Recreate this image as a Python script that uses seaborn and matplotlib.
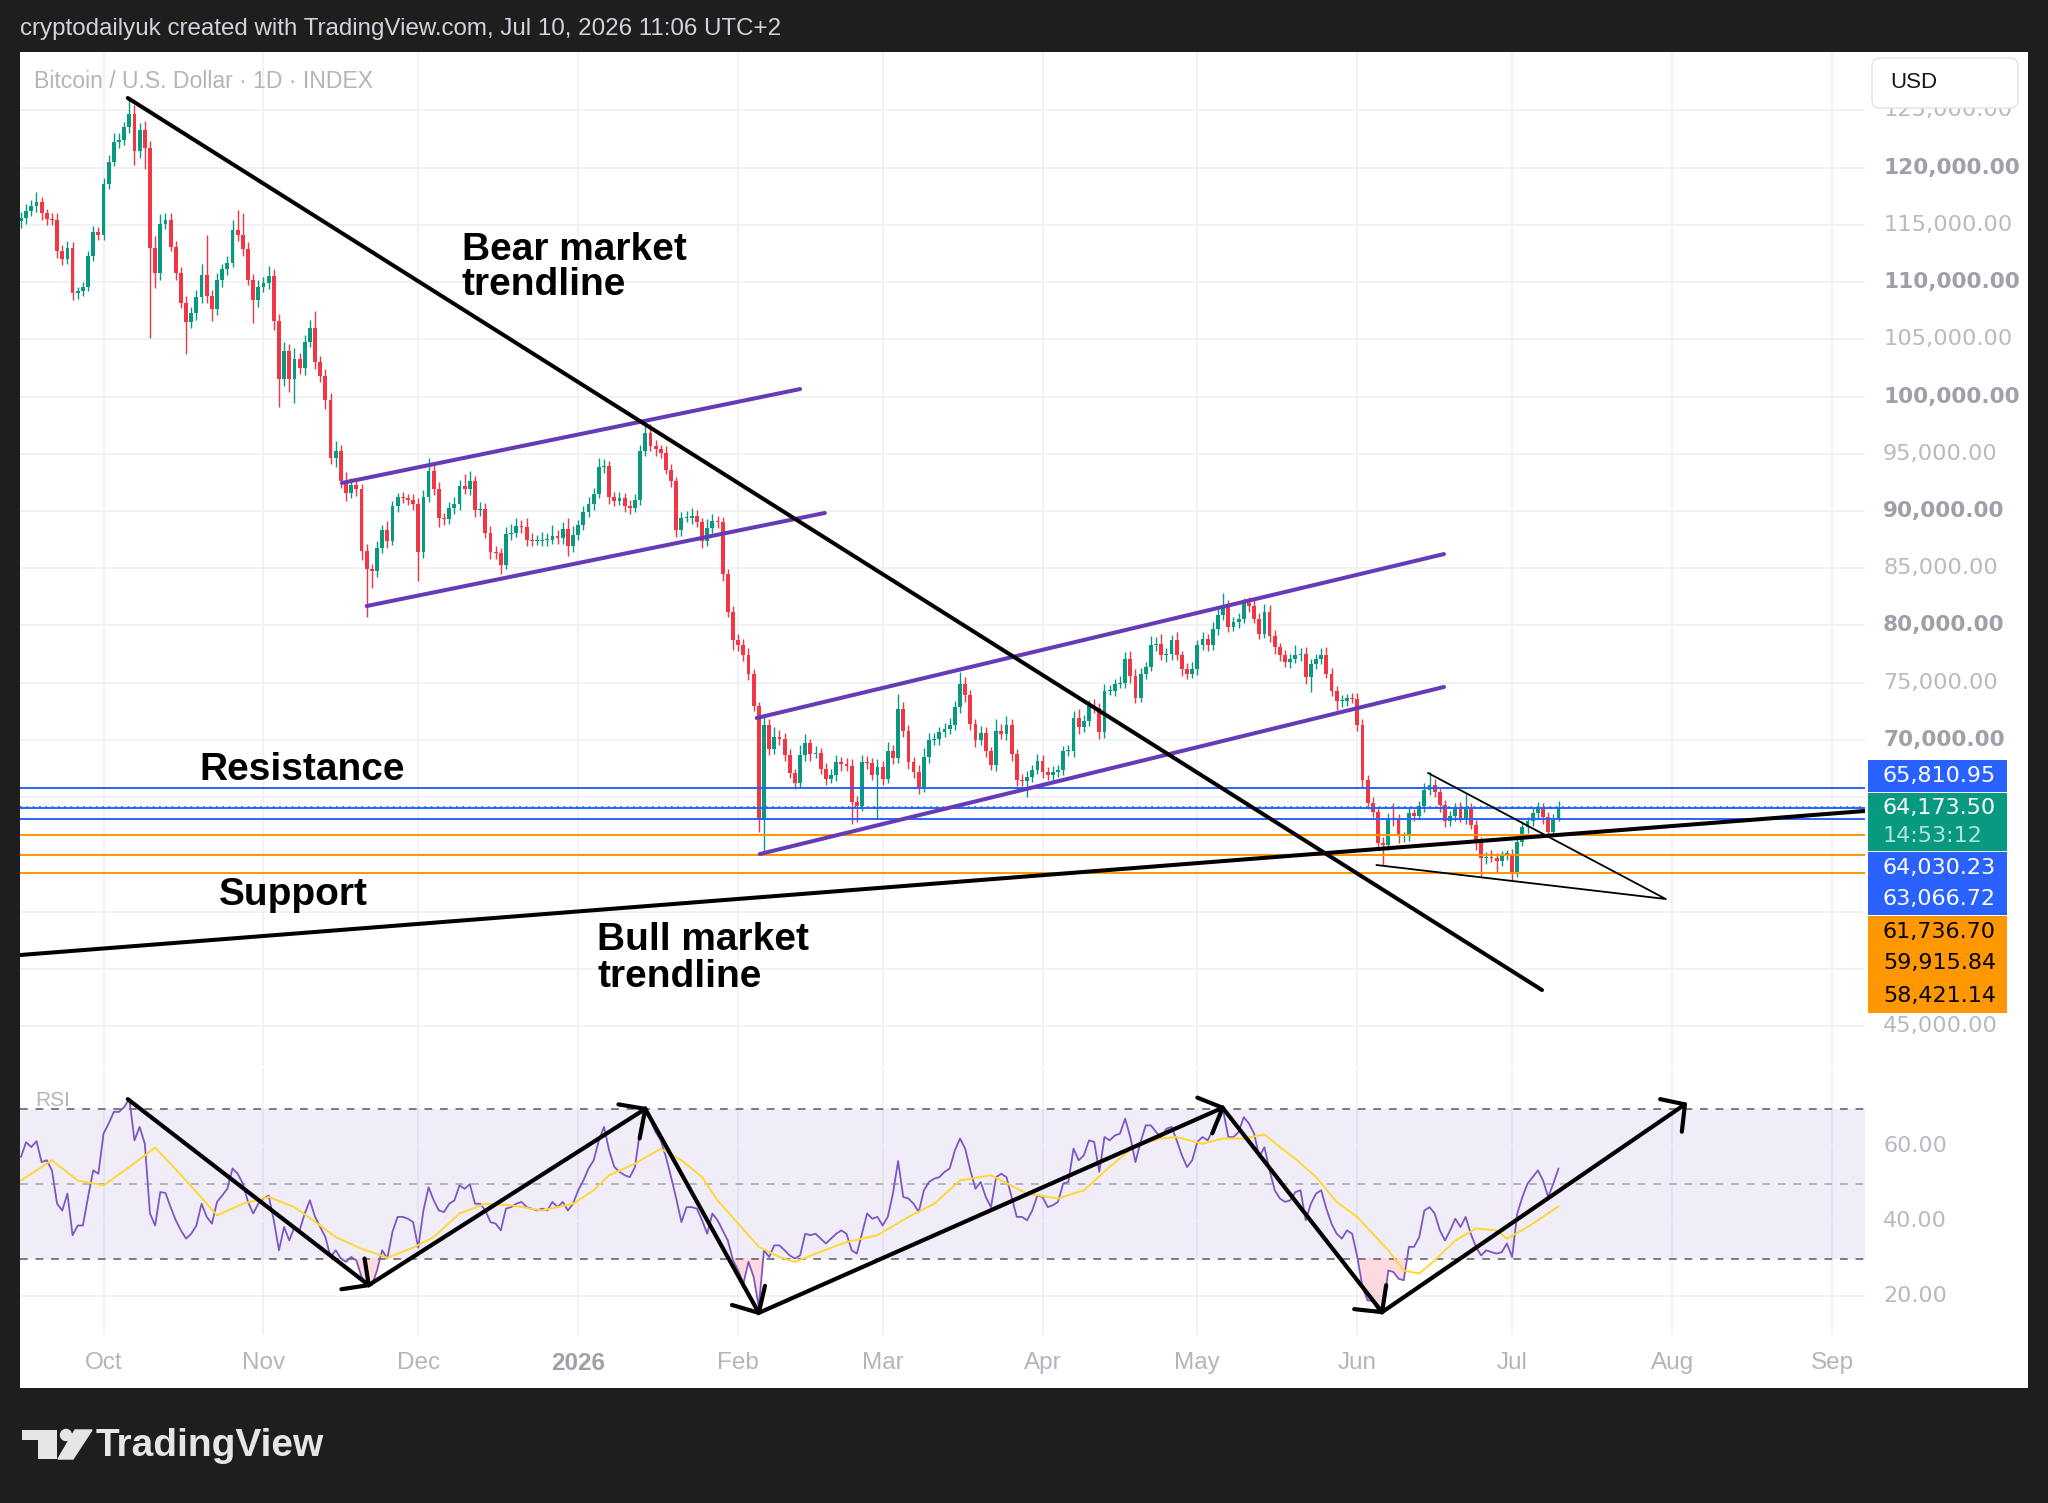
import numpy as np
import pandas as pd
import matplotlib
matplotlib.use("Agg")
import matplotlib.pyplot as plt
import matplotlib.dates as mdates
from matplotlib.patches import Rectangle, FancyBboxPatch, Polygon, Circle
from matplotlib.transforms import Affine2D
import seaborn as sns

W, H = 2048, 1503

# ---- daily BTC candles, prices in thousands USD ----
start_date = "2025-09-15"
first_open_k = 115.3
closes_k = [
    115.6, 116.2, 116.6, 117.0, 116.0, 115.5, 115.4, 112.7, 112.0, 113.0,
    109.0, 109.2, 109.6, 112.3, 114.4, 114.1, 118.6, 120.5, 122.2, 122.4,
    123.5, 124.7, 121.4, 123.3, 121.7, 113.0, 110.8, 115.1, 115.4, 113.1,
    110.8, 108.2, 106.5, 107.3, 108.7, 110.6, 108.8, 107.6, 110.2, 111.1,
    111.7, 114.5, 114.1, 112.9, 110.2, 108.4, 109.6, 109.9, 110.5, 106.6,
    101.5, 104.0, 101.5, 103.3, 102.5, 104.8, 106.0, 103.0, 101.8, 99.7,
    94.6, 95.2, 92.6, 91.6, 92.3, 91.9, 86.5, 84.9, 84.8, 86.8,
    88.3, 87.4, 90.4, 91.2, 91.1, 91.0, 90.6, 86.4, 91.2, 93.5,
    91.9, 89.4, 89.3, 90.3, 90.6, 92.2, 91.9, 92.6, 90.1, 90.2,
    88.1, 86.4, 86.3, 85.3, 88.0, 88.1, 88.7, 88.6, 87.5, 87.4,
    87.4, 87.5, 87.5, 87.8, 87.6, 88.4, 86.9, 87.9, 88.8, 89.9,
    90.6, 91.5, 93.8, 93.9, 91.2, 90.9, 91.1, 90.4, 90.3, 91.0,
    95.2, 96.8, 95.7, 95.4, 95.1, 93.6, 92.6, 88.3, 89.4, 89.4,
    89.6, 89.0, 87.4, 88.5, 89.1, 89.0, 84.5, 81.2, 78.7, 78.3,
    77.4, 75.8, 73.0, 63.0, 71.3, 69.2, 70.3, 70.1, 68.7, 67.1,
    66.2, 68.7, 69.7, 68.8, 68.9, 67.5, 66.6, 66.9, 68.1, 67.9,
    67.7, 64.6, 64.2, 68.1, 68.0, 66.9, 67.6, 66.6, 69.0, 68.4,
    72.7, 70.8, 68.1, 67.2, 65.9, 68.5, 70.0, 70.1, 70.7, 71.0,
    71.3, 72.9, 74.9, 73.9, 71.4, 70.0, 70.6, 69.0, 67.8, 70.8,
    70.5, 71.3, 68.8, 66.5, 66.4, 66.8, 67.4, 68.2, 67.2, 66.9,
    67.2, 67.4, 69.0, 69.0, 71.9, 71.1, 71.7, 73.0, 72.8, 70.7,
    74.3, 74.3, 74.9, 75.0, 77.1, 75.6, 73.7, 75.8, 76.4, 78.3,
    78.4, 77.4, 77.5, 78.7, 77.4, 76.2, 75.8, 76.2, 78.3, 78.8,
    78.3, 79.7, 80.9, 81.6, 79.9, 80.3, 80.6, 82.0, 81.7, 80.6,
    79.3, 81.2, 79.1, 78.1, 77.4, 76.8, 77.1, 77.4, 77.5, 75.5,
    76.6, 77.1, 77.4, 75.8, 74.3, 73.4, 73.4, 73.7, 73.6, 71.3,
    66.5, 64.5, 63.7, 61.0, 60.8, 63.2, 63.0, 61.6, 61.6, 63.6,
    63.4, 64.2, 65.6, 66.1, 65.5, 64.3, 62.9, 63.4, 64.0, 63.2,
    64.0, 62.6, 61.0, 59.7, 59.8, 59.7, 59.4, 60.0, 60.0, 58.5,
    61.1, 62.4, 62.9, 63.6, 64.0, 63.3, 62.0, 63.2, 64.1735,
]
wick_up_k = [
    0.5, 0.6, 0.6, 0.9, 0.4, 0.4, 0.5, 0.6, 0.5, 0.6,
    0.5, 0.4, 0.4, 0.4, 0.5, 0.4, 0.5, 0.6, 0.8, 0.6,
    0.5, 1.5, 0.8, 0.6, 0.8, 0.6, 1.0, 0.8, 0.6, 0.6,
    0.5, 0.5, 0.6, 0.5, 0.6, 1.0, 3.5, 0.5, 0.6, 0.5,
    0.6, 0.9, 1.8, 1.9, 0.6, 0.5, 0.6, 0.5, 0.9, 0.6,
    0.6, 0.8, 0.6, 0.9, 0.5, 0.6, 0.7, 1.5, 0.5, 0.6,
    0.6, 0.9, 0.6, 0.8, 0.6, 0.6, 0.5, 0.6, 0.5, 0.6,
    0.5, 0.8, 0.5, 0.4, 0.5, 0.4, 0.5, 0.5, 0.6, 1.1,
    0.5, 0.6, 0.4, 0.5, 0.6, 0.5, 1.0, 0.9, 0.5, 0.6,
    0.5, 0.6, 0.5, 0.5, 0.6, 0.8, 0.7, 0.5, 0.8, 0.6,
    0.5, 0.7, 0.6, 1.0, 0.5, 0.6, 1.0, 0.8, 0.4, 0.5,
    0.6, 0.5, 0.8, 0.6, 0.5, 0.5, 0.6, 0.5, 0.6, 0.5,
    0.6, 0.9, 0.8, 0.5, 0.4, 0.6, 0.5, 0.4, 0.5, 0.6,
    0.7, 0.5, 0.4, 0.8, 0.6, 0.5, 0.5, 0.4, 0.5, 0.6,
    0.5, 0.6, 0.4, 0.3, 1.0, 0.5, 0.8, 0.6, 0.5, 0.5,
    0.4, 0.9, 0.8, 0.4, 0.6, 0.4, 0.5, 0.6, 0.6, 0.4,
    0.5, 0.6, 0.5, 0.6, 0.5, 0.4, 0.7, 0.6, 0.8, 0.6,
    1.3, 0.6, 0.5, 0.4, 0.6, 0.8, 0.6, 0.5, 0.4, 0.5,
    0.6, 0.5, 1.0, 0.6, 0.5, 0.4, 0.6, 0.5, 0.4, 1.0,
    0.6, 0.8, 0.5, 0.4, 0.5, 0.5, 0.4, 0.6, 0.5, 0.4,
    0.5, 0.4, 0.5, 0.6, 0.6, 0.8, 0.5, 0.5, 0.6, 0.4,
    0.6, 0.5, 0.4, 0.6, 0.6, 0.7, 0.6, 0.5, 0.4, 0.8,
    0.6, 0.9, 0.5, 0.5, 0.7, 0.4, 0.5, 0.6, 0.4, 0.6,
    0.5, 0.6, 0.5, 1.2, 0.6, 0.4, 0.5, 0.4, 0.5, 0.6,
    0.5, 0.7, 0.6, 0.5, 0.4, 0.5, 0.4, 0.9, 0.5, 0.6,
    0.5, 0.4, 0.6, 0.7, 0.5, 0.4, 0.5, 0.3, 0.4, 0.5,
    0.5, 0.4, 0.5, 0.4, 0.5, 0.4, 1.3, 0.5, 0.4, 0.5,
    0.4, 0.5, 0.6, 1.1, 0.5, 0.4, 0.5, 0.4, 0.5, 0.6,
    1.3, 0.5, 0.4, 0.5, 0.4, 0.6, 0.4, 0.3, 0.4, 0.5,
    0.4, 0.5, 0.4, 0.5, 0.6, 0.5, 0.4, 0.3, 0.5,
]
wick_dn_k = [
    0.6, 0.5, 0.4, 0.5, 0.6, 0.5, 0.4, 0.6, 0.5, 0.4,
    0.6, 0.5, 0.4, 0.4, 0.5, 0.4, 0.4, 0.5, 0.4, 0.5,
    0.4, 0.5, 1.2, 0.6, 1.8, 7.9, 1.3, 0.6, 0.5, 0.4,
    0.6, 0.5, 2.8, 0.5, 0.6, 0.5, 0.6, 1.0, 0.5, 0.6,
    0.5, 0.4, 0.5, 0.6, 0.5, 2.0, 0.6, 0.5, 0.5, 0.8,
    2.4, 0.6, 1.1, 2.1, 0.5, 0.6, 0.5, 0.6, 0.5, 0.8,
    0.5, 0.8, 0.6, 0.7, 0.5, 0.6, 0.8, 4.2, 1.5, 0.6,
    0.5, 0.6, 0.4, 0.5, 0.4, 0.5, 0.5, 2.5, 0.5, 0.4,
    0.5, 0.8, 0.5, 0.4, 0.6, 0.5, 0.4, 0.5, 0.6, 0.5,
    0.5, 0.6, 0.5, 0.8, 0.4, 0.5, 0.4, 0.5, 0.6, 0.5,
    0.4, 0.5, 0.6, 0.4, 0.5, 0.5, 0.8, 0.5, 0.4, 0.5,
    0.4, 0.5, 0.4, 0.5, 0.6, 0.5, 0.4, 0.5, 0.6, 0.4,
    0.5, 0.4, 0.5, 0.6, 0.5, 0.4, 0.5, 0.6, 0.5, 0.4,
    0.5, 0.4, 0.6, 0.5, 0.4, 0.5, 0.6, 0.5, 0.8, 0.5,
    0.5, 0.6, 0.5, 1.0, 2.9, 0.5, 0.4, 0.5, 0.5, 0.4,
    0.5, 0.4, 0.5, 0.6, 0.4, 0.5, 0.5, 0.4, 0.5, 0.6,
    0.4, 1.9, 1.4, 0.4, 0.5, 0.4, 3.8, 0.5, 0.4, 0.5,
    0.4, 0.5, 0.6, 0.5, 0.6, 0.4, 0.5, 0.4, 0.5, 0.4,
    0.5, 0.4, 0.5, 0.6, 0.5, 0.6, 0.4, 0.5, 0.4, 0.5,
    0.4, 0.5, 0.6, 0.5, 0.4, 1.4, 0.5, 0.4, 0.5, 0.4,
    0.5, 0.4, 0.5, 0.4, 0.5, 0.6, 0.4, 0.5, 0.4, 0.6,
    0.5, 0.4, 0.5, 0.4, 0.5, 0.6, 0.5, 0.4, 0.5, 0.4,
    0.5, 0.4, 0.6, 0.5, 0.4, 0.6, 0.5, 0.4, 0.5, 0.4,
    0.5, 0.4, 0.5, 0.4, 0.5, 0.4, 0.5, 0.4, 0.5, 0.4,
    0.5, 0.4, 0.5, 0.6, 0.5, 0.4, 0.5, 0.4, 0.5, 0.6,
    1.3, 0.4, 0.5, 0.4, 0.5, 0.8, 0.5, 0.4, 0.4, 0.5,
    0.6, 0.5, 0.4, 0.6, 1.7, 0.4, 0.5, 0.6, 0.5, 0.4,
    0.5, 0.4, 0.5, 0.4, 0.5, 0.6, 0.5, 0.4, 0.5, 0.4,
    0.5, 0.4, 0.6, 1.6, 0.5, 0.4, 1.0, 0.4, 0.5, 0.7,
    0.5, 0.4, 0.5, 0.4, 0.5, 0.6, 0.5, 0.4, 0.3,
]

# ---- RSI (14) and its moving average ----
rsi_vals = [
    57.1, 61.0, 59.7, 61.3, 55.7, 56.2, 53.5, 44.6, 42.8, 47.3,
    36.2, 38.8, 38.8, 46.4, 53.5, 52.6, 63.3, 66.0, 69.1, 69.1,
    70.4, 72.6, 61.5, 65.1, 60.6, 42.0, 38.8, 47.7, 47.5, 43.7,
    40.2, 37.5, 35.3, 36.6, 38.8, 44.6, 41.1, 39.3, 45.1, 46.8,
    48.6, 54.0, 52.6, 50.0, 45.1, 42.0, 44.6, 46.0, 46.8, 40.2,
    32.2, 38.4, 34.8, 38.4, 37.5, 42.0, 45.5, 41.1, 38.4, 35.7,
    30.4, 32.2, 30.0, 29.1, 30.4, 29.5, 25.1, 23.3, 22.8, 26.8,
    32.2, 30.0, 37.1, 41.1, 41.1, 40.6, 39.7, 32.9, 42.8, 49.0,
    45.5, 42.8, 42.4, 44.6, 45.5, 49.5, 48.6, 49.8, 44.6, 44.6,
    42.8, 39.7, 39.3, 37.5, 43.3, 43.7, 44.6, 45.1, 43.7, 43.3,
    42.8, 43.3, 42.8, 45.1, 43.7, 45.1, 42.8, 44.6, 48.2, 50.8,
    54.0, 56.2, 61.5, 65.1, 58.8, 54.4, 53.1, 52.2, 51.7, 54.4,
    64.2, 69.1, 66.8, 63.7, 61.5, 57.1, 51.7, 46.0, 39.7, 43.7,
    43.7, 43.3, 40.2, 36.6, 42.0, 40.2, 37.5, 34.8, 29.5, 26.8,
    23.3, 29.1, 25.1, 17.0, 32.2, 30.4, 33.5, 33.5, 32.2, 30.8,
    30.0, 30.8, 36.6, 36.2, 36.6, 35.3, 34.0, 35.3, 36.6, 37.5,
    36.6, 32.2, 31.3, 36.6, 42.0, 40.6, 41.1, 38.8, 41.1, 47.3,
    56.0, 46.4, 46.0, 44.6, 42.4, 48.2, 50.4, 51.3, 51.7, 53.1,
    54.0, 58.8, 62.0, 59.3, 53.5, 48.6, 50.4, 46.4, 43.7, 51.7,
    52.6, 51.7, 46.4, 41.1, 41.1, 40.2, 42.8, 46.8, 46.4, 43.7,
    44.2, 45.1, 50.0, 50.4, 59.3, 56.2, 57.5, 61.5, 61.1, 53.1,
    62.4, 61.5, 62.8, 63.3, 67.3, 62.4, 55.7, 61.1, 65.5, 65.5,
    63.7, 62.4, 64.6, 65.1, 61.5, 57.5, 54.4, 56.2, 61.1, 62.4,
    61.5, 64.2, 66.4, 69.5, 62.4, 62.4, 63.7, 67.7, 66.0, 63.3,
    57.1, 59.7, 53.5, 48.2, 46.0, 45.1, 45.5, 47.7, 48.2, 40.2,
    44.6, 47.3, 48.2, 43.3, 39.3, 36.6, 35.3, 37.5, 36.6, 30.4,
    22.4, 18.8, 18.8, 16.2, 15.7, 26.8, 26.4, 24.6, 24.2, 33.1,
    33.1, 35.7, 42.8, 43.7, 42.0, 37.5, 34.8, 37.5, 40.6, 38.4,
    41.1, 36.6, 33.1, 30.8, 32.2, 31.7, 31.3, 31.7, 34.0, 30.4,
    42.0, 46.4, 50.0, 51.7, 53.5, 50.8, 46.4, 50.0, 54.0,
]
ma_days = [0, 6, 11, 16, 21, 26, 32, 38, 43, 48,
           53, 58, 61, 66, 71, 76, 80, 85, 90, 95,
           101, 107, 111, 114, 119, 124, 128, 132, 135, 139,
           143, 147, 150, 154, 160, 166, 172, 177, 182, 188,
           195, 201, 206, 211, 216, 221, 224, 229, 233, 237,
           241, 244, 247, 251, 255, 259, 262, 265, 268, 271,
           274, 278, 282, 286, 288, 292, 295, 298]
ma_vals = [50.8, 56.2, 50.8, 49.5, 54.4, 59.6, 50.8, 41.5, 44.6, 46.4,
           43.7, 38.8, 35.7, 32.6, 30.2, 32.9, 35.7, 42.0, 44.6, 44.2,
           42.8, 44.6, 48.2, 52.2, 55.3, 59.3, 56.2, 51.7, 45.5, 39.3,
           33.1, 30.4, 29.1, 31.3, 34.4, 36.2, 41.1, 44.6, 50.8, 52.2,
           47.3, 46.0, 48.2, 54.4, 60.2, 62.0, 62.4, 60.6, 62.0, 62.0,
           63.1, 59.7, 56.6, 51.7, 45.1, 41.1, 36.6, 32.2, 26.8, 26.0,
           29.5, 34.8, 38.0, 37.5, 35.3, 38.4, 41.1, 43.9]

# ---- horizontal levels and price tags ----
level_prices = [65810.95, 64173.50, 64030.23, 63066.72, 61736.70, 59915.84, 58421.14]
level_kinds = ["blue", "last", "blue", "blue", "orange", "orange", "orange"]
countdown = "14:53:12"

# ---- hand drawn lines: (day offset from start, price) ----
bear_line = ([20.7, 294.8], [126070, 48160])
bull_line = ([-0.2, 357.4], [51220, 63800])
channel1 = [([62.2, 151.0], [92450, 100650]), ([67.0, 155.8], [81700, 89830])]
channel2 = [([142.6, 275.8], [71920, 86240]), ([143.2, 275.8], [60040, 74630])]
wedge = ([272.7, 318.8, 262.7], [67120, 56110, 59080])

# RSI zig-zag arrows: (day offset, rsi)
rsi_path_days = [20.7, 67.4, 121.0, 143.0, 232.9, 263.8, 322.5]
rsi_path_vals = [72.5, 22.9, 69.9, 15.5, 70.2, 15.7, 71.1]
arrow_heads = [
    [(62.1, 21.8), (67.4, 22.9), (66.6, 30.0)],
    [(115.8, 71.1), (121.0, 69.9), (119.9, 62.0)],
    [(137.8, 17.6), (143.0, 15.5), (144.2, 22.7)],
    [(228.0, 72.9), (232.9, 70.2), (230.9, 63.4)],
    [(258.4, 16.5), (263.8, 15.7), (264.6, 22.9)],
    [(317.7, 72.5), (322.5, 71.1), (321.9, 63.8)],
]

month_labels = ["Oct", "Nov", "Dec", "2026", "Feb", "Mar", "Apr", "May", "Jun", "Jul", "Aug", "Sep"]
month_starts = ["2025-10-01", "2025-11-01", "2025-12-01", "2026-01-01", "2026-02-01", "2026-03-01",
                "2026-04-01", "2026-05-01", "2026-06-01", "2026-07-01", "2026-08-01", "2026-09-01"]
price_ticks = [45000, 50000, 55000, 60000, 65000, 70000, 75000, 80000, 85000,
               90000, 95000, 100000, 105000, 110000, 115000, 120000, 125000]
hidden_ticks = [50000, 55000, 60000, 65000]  # covered by the price tags
rsi_ticks = [20, 40, 60]

GREEN = "#089981"
RED = "#f23645"
BLUE = "#2962ff"
ORANGE = "#ff9800"
PURPLE = "#673ab7"
GRID = "#eef0f4"
AXTXT = "#b2b5be"
SCALE_FONT = ["DejaVu Sans"]

sns.set_theme(style="white")
plt.rcParams["font.family"] = ["Liberation Sans", "DejaVu Sans"]

dates = pd.date_range(start_date, periods=len(closes_k), freq="D")
xn = mdates.date2num(dates)
t0 = xn[0]
close = np.array(closes_k) * 1000
open_ = np.r_[first_open_k * 1000, close[:-1]]
high = np.maximum(open_, close) + np.array(wick_up_k) * 1000
low = np.minimum(open_, close) - np.array(wick_dn_k) * 1000
rsi = np.array(rsi_vals)

fig = plt.figure(figsize=(W / 100, H / 100), dpi=100, facecolor="#1e1e1e")
pxt = Affine2D().scale(1 / W, -1 / H).translate(0, 1) + fig.transFigure


def fig_box(x0, y0, x1, y1, color, z, edge="none", r=0):
    if r:
        p = FancyBboxPatch((x0, y1), x1 - x0, y0 - y1, boxstyle=f"round,pad=0,rounding_size={r}",
                           transform=pxt, facecolor=color, edgecolor=edge, lw=1, zorder=z)
    else:
        p = Rectangle((x0, y1), x1 - x0, y0 - y1, transform=pxt, facecolor=color,
                      edgecolor=edge, lw=0, zorder=z)
    fig.add_artist(p)


# white board
fig_box(20, 1388, 2028, 52, "white", -10)

ax = fig.add_axes([20 / W, 1 - 1066 / H, 1845 / W, 1014 / H])
ax2 = fig.add_axes([20 / W, 1 - 1335 / H, 1845 / W, 267 / H])
for a in (ax, ax2):
    a.set_facecolor("none")
    for s in a.spines.values():
        s.set_visible(False)
    a.set_xticks([])
    a.set_yticks([])
    a.set_xlim(t0 - 0.19, t0 + 357.4)
ax.set_ylim(41526, 130089)
ax2.set_ylim(9.6, 80.8)

month_x = mdates.date2num(pd.to_datetime(month_starts))
for mx in month_x:
    ax.axvline(mx, color=GRID, lw=1.2, zorder=0)
    ax2.axvline(mx, color=GRID, lw=1.2, zorder=0)
for p in price_ticks:
    ax.axhline(p, color=GRID, lw=1.2, zorder=0)

# candles
colors = np.where(close >= open_, GREEN, RED)
ax.vlines(xn, low, high, colors=colors, lw=1.0, zorder=3)
ax.bar(xn, np.maximum(np.abs(close - open_), 90), bottom=np.minimum(open_, close),
       width=0.74, color=colors, lw=0, zorder=3)

# levels
for lv, kind in zip(level_prices, level_kinds):
    if kind == "last":
        ax.axhline(lv, color=GREEN, lw=1.3, ls=(0, (1, 2.5)), zorder=4)
    else:
        ax.axhline(lv, color=BLUE if kind == "blue" else ORANGE, lw=1.4, zorder=4)

# drawings
ax.plot(t0 + np.array(bear_line[0]), bear_line[1], color="black", lw=2.9, zorder=6, solid_capstyle="round")
ax.plot(t0 + np.array(bull_line[0]), bull_line[1], color="black", lw=2.9, zorder=6, solid_capstyle="round")
for xs, ys in channel1 + channel2:
    ax.plot(t0 + np.array(xs), ys, color=PURPLE, lw=2.9, zorder=5, solid_capstyle="round")
ax.plot(t0 + np.array(wedge[0]), wedge[1], color="black", lw=1.3, zorder=6)

txt_kw = dict(fontsize=28, fontweight="bold", color="black", transform=pxt, va="baseline", ha="left", zorder=8)
fig.text(462, 260, "Bear market", **txt_kw)
fig.text(462, 295, "trendline", **txt_kw)
fig.text(199, 780, "Resistance", **txt_kw)
fig.text(219, 905, "Support", **txt_kw)
fig.text(597, 950, "Bull market", **txt_kw)
fig.text(597, 987, "trendline", **txt_kw)

ax.text(0.0076, 0.971, "Bitcoin / U.S. Dollar \u00b7 1D \u00b7 INDEX", transform=ax.transAxes,
        fontsize=16.6, color=AXTXT, ha="left", va="center")

# price scale labels (the ones under the tags are not visible in the chart)
ytr = ax.get_yaxis_transform()
usd_clip = Rectangle((1860, 109), 200, 1300, transform=pxt)
for p in price_ticks:
    if p in hidden_ticks:
        continue
    bold = p % 10000 == 0
    t = ax.text(1.0098, p, f"{p:,.2f}", transform=ytr, ha="left", va="center",
                fontsize=15.6 if bold else 16.2, family=SCALE_FONT,
                fontweight="bold" if bold else "normal",
                color="#9ea1aa" if bold else "#b7bac2", clip_on=False)
    if p == 125000:
        t.set_clip_path(usd_clip)

# RSI pane
ax2.axhspan(30, 70, color="#7e57c2", alpha=0.1, lw=0, zorder=0)
for r in rsi_ticks:
    ax2.axhline(r, color=GRID, lw=1.2, zorder=0)
ax2.axhline(70, color="#787b86", lw=1.4, ls=(0, (4, 4)), zorder=1)
ax2.axhline(30, color="#787b86", lw=1.4, ls=(0, (4, 4)), zorder=1)
ax2.axhline(50, color="#787b86", lw=1.4, ls=(0, (4, 4)), alpha=0.5, zorder=1)
ax2.fill_between(xn, rsi, 30, where=rsi < 30, interpolate=True, color=RED, alpha=0.18, lw=0, zorder=1)
ax2.fill_between(xn, rsi, 70, where=rsi > 70, interpolate=True, color=GREEN, alpha=0.15, lw=0, zorder=1)
sns.lineplot(x=xn, y=rsi, ax=ax2, color="#7e57c2", lw=1.3, zorder=3)
sns.lineplot(x=t0 + np.array(ma_days), y=ma_vals, ax=ax2, color="#fdd835", lw=1.4, zorder=3)
ax2.set_xlabel("")
ax2.set_ylabel("")
ax2.set_xlim(t0 - 0.19, t0 + 357.4)
ax2.plot(t0 + np.array(rsi_path_days), rsi_path_vals, color="black", lw=3.0, zorder=5,
         solid_capstyle="round", solid_joinstyle="miter")
for head in arrow_heads:
    hx = [t0 + h[0] for h in head]
    hy = [h[1] for h in head]
    ax2.plot(hx, hy, color="black", lw=3.0, zorder=5, solid_capstyle="round")
ax2.text(0.0081, 80.8 - (1101 - 1068) / 3.75, "RSI", fontsize=15, color=AXTXT, ha="left", va="center",
         transform=ax2.get_yaxis_transform())
ytr2 = ax2.get_yaxis_transform()
for r in rsi_ticks:
    ax2.text(1.0098, r, f"{r:.2f}", transform=ytr2, ha="left", va="center", fontsize=16,
             family=SCALE_FONT, color="#b7bac2", clip_on=False)

# month labels
xtr = ax2.get_xaxis_transform()
for mx, lab in zip(month_x, month_labels):
    bold = lab.isdigit()
    ax2.text(mx, -0.105, lab, transform=xtr, ha="center", va="center", fontsize=17.5,
             fontweight="bold" if bold else "normal", color="#9ea1aa" if bold else AXTXT, clip_on=False)

# USD box
fig_box(1872, 108, 2018, 58, "white", 5, edge="#e0e3eb", r=8)
fig.text(1890, 83, "USD", transform=pxt, fontsize=16, color="#131722", va="center", ha="left", zorder=6)

# price tags on the scale
tag_rows = [(760, 792), (793, 851), (852, 883), (883, 915), (916, 947), (947, 979), (979, 1013)]
for (y0, y1), lv, kind in zip(tag_rows, level_prices, level_kinds):
    col = {"blue": BLUE, "last": GREEN, "orange": ORANGE}[kind]
    fig_box(1868, y1, 2007, y0, col, 6)
    tc = "black" if kind == "orange" else "white"
    if kind == "last":
        fig.text(1883, y0 + 15, f"{lv:,.2f}", transform=pxt, fontsize=16, family=SCALE_FONT,
                 color=tc, va="center", zorder=7)
        fig.text(1883, y0 + 43, countdown, transform=pxt, fontsize=16, family=SCALE_FONT,
                 color="#b5e3d8", va="center", zorder=7)
    else:
        fig.text(1883, (y0 + y1) / 2, f"{lv:,.2f}", transform=pxt, fontsize=16, family=SCALE_FONT,
                 color=tc, va="center", zorder=7)

# header and footer
fig.text(20, 29, "cryptodailyuk created with TradingView.com, Jul 10, 2026 11:06 UTC+2", transform=pxt,
         fontsize=17.4, color="#d1d4dc", va="center", ha="left")
logo = "#e6e6e6"
fig_box(22, 1440, 57, 1430, logo, 5)
fig_box(38, 1459, 57, 1430, logo, 5)
fig.add_artist(Circle((66, 1435), 5.5, transform=pxt, color=logo, zorder=5))
fig.add_artist(Polygon([(75, 1430), (92, 1430), (73, 1459), (58, 1459)], closed=True, transform=pxt,
                       color=logo, zorder=5))
fig.text(96, 1446, "TradingView", transform=pxt, fontsize=28, fontweight="bold", color=logo,
         va="center", ha="left")

fig.savefig("out.png", dpi=100, facecolor=fig.get_facecolor())
